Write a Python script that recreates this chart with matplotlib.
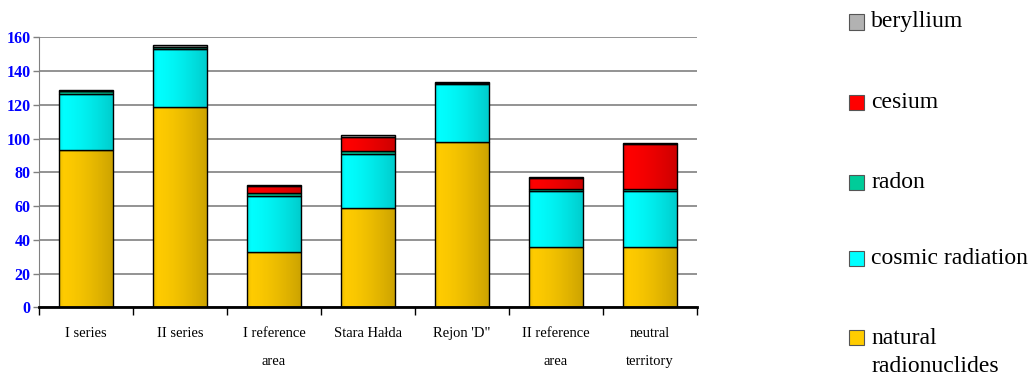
import numpy as np
import matplotlib
matplotlib.use("Agg")
import matplotlib.pyplot as plt
from matplotlib.patches import Rectangle

# Sites and dose contributions per source
categories = ["I series", "II series", "I reference\narea", "Stara Hałda",
              "Rejon 'D\"", "II reference\narea", "neutral\nterritory"]
natural = [93.5, 118.5, 33.0, 59.0, 98.0, 36.0, 36.0]
cosmic = [33.0, 34.5, 33.0, 32.0, 34.5, 33.0, 33.0]
radon = [1.5, 1.5, 1.5, 1.5, 0.7, 1.0, 1.0]
cesium = [0.0, 0.0, 4.5, 8.5, 0.0, 6.5, 27.0]
beryllium = [1.0, 1.0, 0.5, 1.0, 0.5, 0.8, 0.5]

series_names = ["natural\nradionuclides", "cosmic radiation", "radon", "cesium", "beryllium"]
series_values = [natural, cosmic, radon, cesium, beryllium]
series_colors = ["#FFCC00", "#00FFFF", "#00CC99", "#FF0000", "#B2B2B2"]

yticks = [0, 20, 40, 60, 80, 100, 120, 140, 160]

W, H = 1035, 379
fig = plt.figure(figsize=(W / 100, H / 100), dpi=100)
ax = fig.add_axes([39 / W, 1 - 307.3 / H, (697 - 39) / W, (307.3 - 37.3) / H])

x = np.arange(len(categories))
width = 0.57
bottom = np.zeros(len(categories))

# horizontal shading so each bar looks rounded: light left, darker right
grad = np.linspace(0, 1, 64)
shade = 0.2 * grad ** 1.5
shade[:6] += np.linspace(0.08, 0.0, 6)
rgba = np.zeros((1, 64, 4))
rgba[..., 3] = shade

for vals, col in zip(series_values, series_colors):
    vals = np.asarray(vals, dtype=float)
    bars = ax.bar(x, vals, width, bottom=bottom, color=col,
                  edgecolor="black", linewidth=1.0, zorder=3)
    for b, v in zip(bars, vals):
        if v <= 0:
            continue
        x0, y0 = b.get_x(), b.get_y()
        im = ax.imshow(rgba, extent=[x0, x0 + b.get_width(), y0, y0 + v],
                       aspect="auto", interpolation="bilinear", zorder=3.5)
        im.set_clip_path(b)
    bottom += vals

ax.set_xlim(-0.5, len(categories) - 0.5)
ax.set_ylim(0, 160)
ax.set_yticks(yticks)
ax.set_yticklabels([str(t) for t in yticks], fontfamily="Liberation Serif",
                   fontweight="bold", color="#0000FF", fontsize=11.5)
ax.yaxis.grid(True, color="#808080", linewidth=1.2, zorder=0)
ax.set_axisbelow(True)

# category boundaries carry the tick marks, labels sit at the centres
ax.set_xticks(np.arange(-0.5, len(categories), 1.0))
ax.set_xticklabels([])
ax.set_xticks(x, minor=True)
ax.set_xticklabels(categories, minor=True, fontfamily="Liberation Serif",
                   fontsize=10.5, linespacing=2.5)
ax.tick_params(axis="x", which="major", length=6, width=1, color="black",
               direction="out")
ax.tick_params(axis="x", which="minor", length=0, pad=14)
ax.tick_params(axis="y", length=4, width=1, color="#808080", pad=2)

for s in ["top", "right"]:
    ax.spines[s].set_visible(False)
ax.spines["left"].set_color("#808080")
ax.spines["bottom"].set_color("black")
ax.spines["bottom"].set_linewidth(2.0)
ax.spines["bottom"].set_zorder(5)

# legend, topmost series first
leg_y = [22, 102, 182, 258, 337]
sq = 15
for name, col, yp in zip(series_names[::-1], series_colors[::-1], leg_y):
    fig.add_artist(Rectangle((849 / W, 1 - (yp + sq / 2) / H), sq / W, sq / H,
                             transform=fig.transFigure, facecolor=col,
                             edgecolor="#555555", linewidth=0.8))
    nlines = name.count("\n") + 1
    yc = yp + (nlines - 1) * 31 / 2
    fig.text(871 / W, 1 - yc / H, name, fontfamily="Liberation Serif",
             fontsize=17, va="center", ha="left", linespacing=1.4)

fig.savefig("out.png", dpi=100)
